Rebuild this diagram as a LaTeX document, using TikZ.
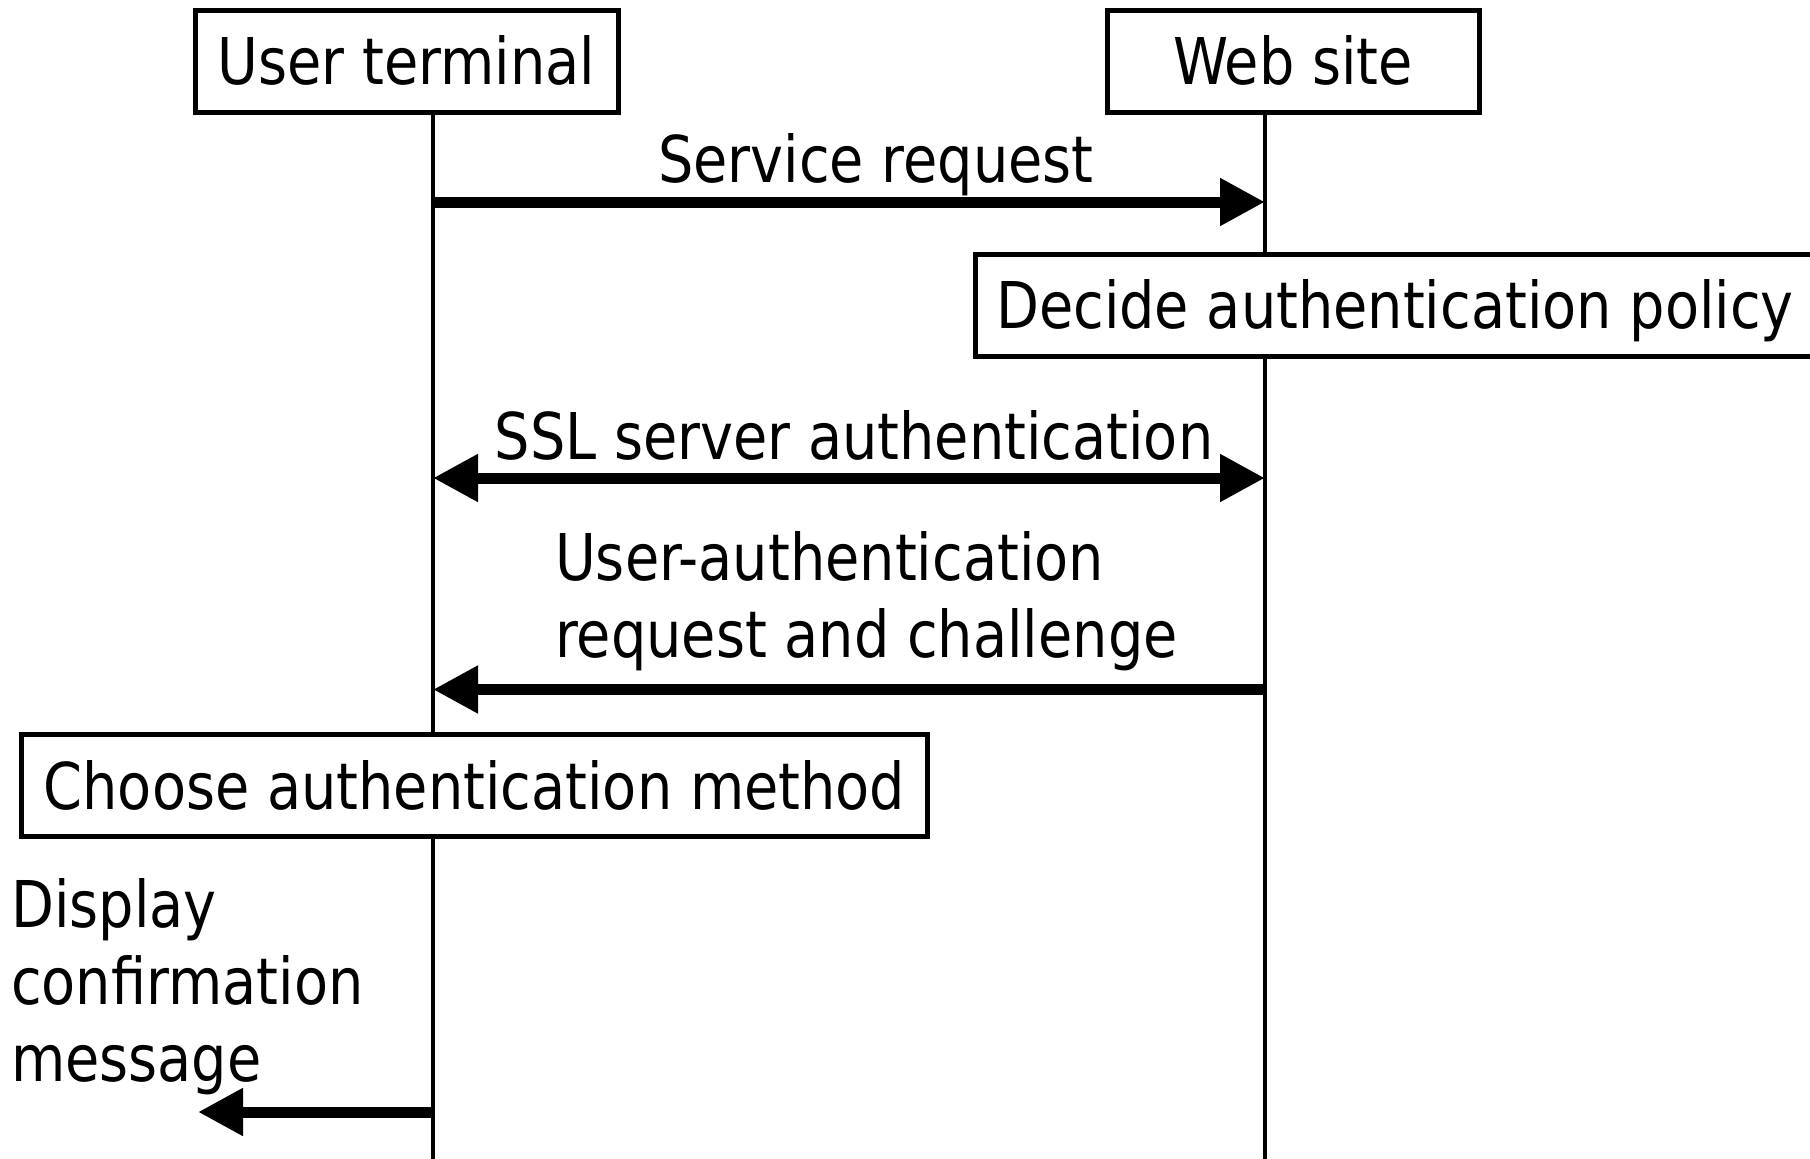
\documentclass[tikz,border=0pt]{standalone}
\usepackage{fontspec}
\setmainfont[FakeStretch=0.864]{DejaVu Sans}
\usetikzlibrary{arrows.meta}
\begin{document}
\begin{tikzpicture}[x=1pt,y=-1pt,
  every node/.style={font=\fontsize{64.5}{77}\selectfont, inner sep=0pt},
  box/.style={draw, line width=5pt, fill=white, minimum height=102pt, text height=47pt, text depth=0pt},
  life/.style={line width=4.8pt},
  tip/.tip={Triangle[length=45pt,width=45pt]},
  msg/.style={line width=11pt, -tip},
  msgboth/.style={line width=11pt, tip-tip},
  lbl/.style={anchor=base},
  lbll/.style={anchor=north west, align=left}
]
\clip (0,0) rectangle (1810,1159);
% actors
\node[box, minimum width=423pt] (ut) at (406.5,61) {User terminal};
\node[box, minimum width=372pt] (ws) at (1293,61) {Web site};
% lifelines
\coordinate (utb) at (433,1159);
\coordinate (wsb) at (1265,1159);
\draw[life] (ut.south -| utb) -- (utb);
\draw[life] (ws.south -| wsb) -- (wsb);
% service request
\coordinate (u1) at (433,202);
\coordinate (w1) at (1265,202);
\draw[msg] (u1) -- (w1);
\node[lbl] (l1) at (876,182) {Service request};
% decide policy
\node[box, minimum width=840pt] (dp) at (1395,305) {Decide authentication policy};
% SSL
\coordinate (u2) at (433,478);
\coordinate (w2) at (1265,478);
\draw[msgboth] (u2) -- (w2);
\node[lbl] (l2) at (854,459) {SSL server authentication};
% user auth request
\coordinate (u3) at (433,689.5);
\coordinate (w3) at (1265,689.5);
\draw[msg] (w3) -- (u3);
\node[lbll] (l3) at (555,531) {User-authentication\\request and challenge};
% choose method
\node[box, minimum width=906pt] (cm) at (474.5,785.5) {Choose authentication method};
% display
\coordinate (u4) at (433,1112);
\coordinate (d4) at (198,1112);
\draw[msg] (u4) -- (d4);
\node[lbll] (l4) at (11,878) {Display\\confirmation\\message};
\end{tikzpicture}
\end{document}
